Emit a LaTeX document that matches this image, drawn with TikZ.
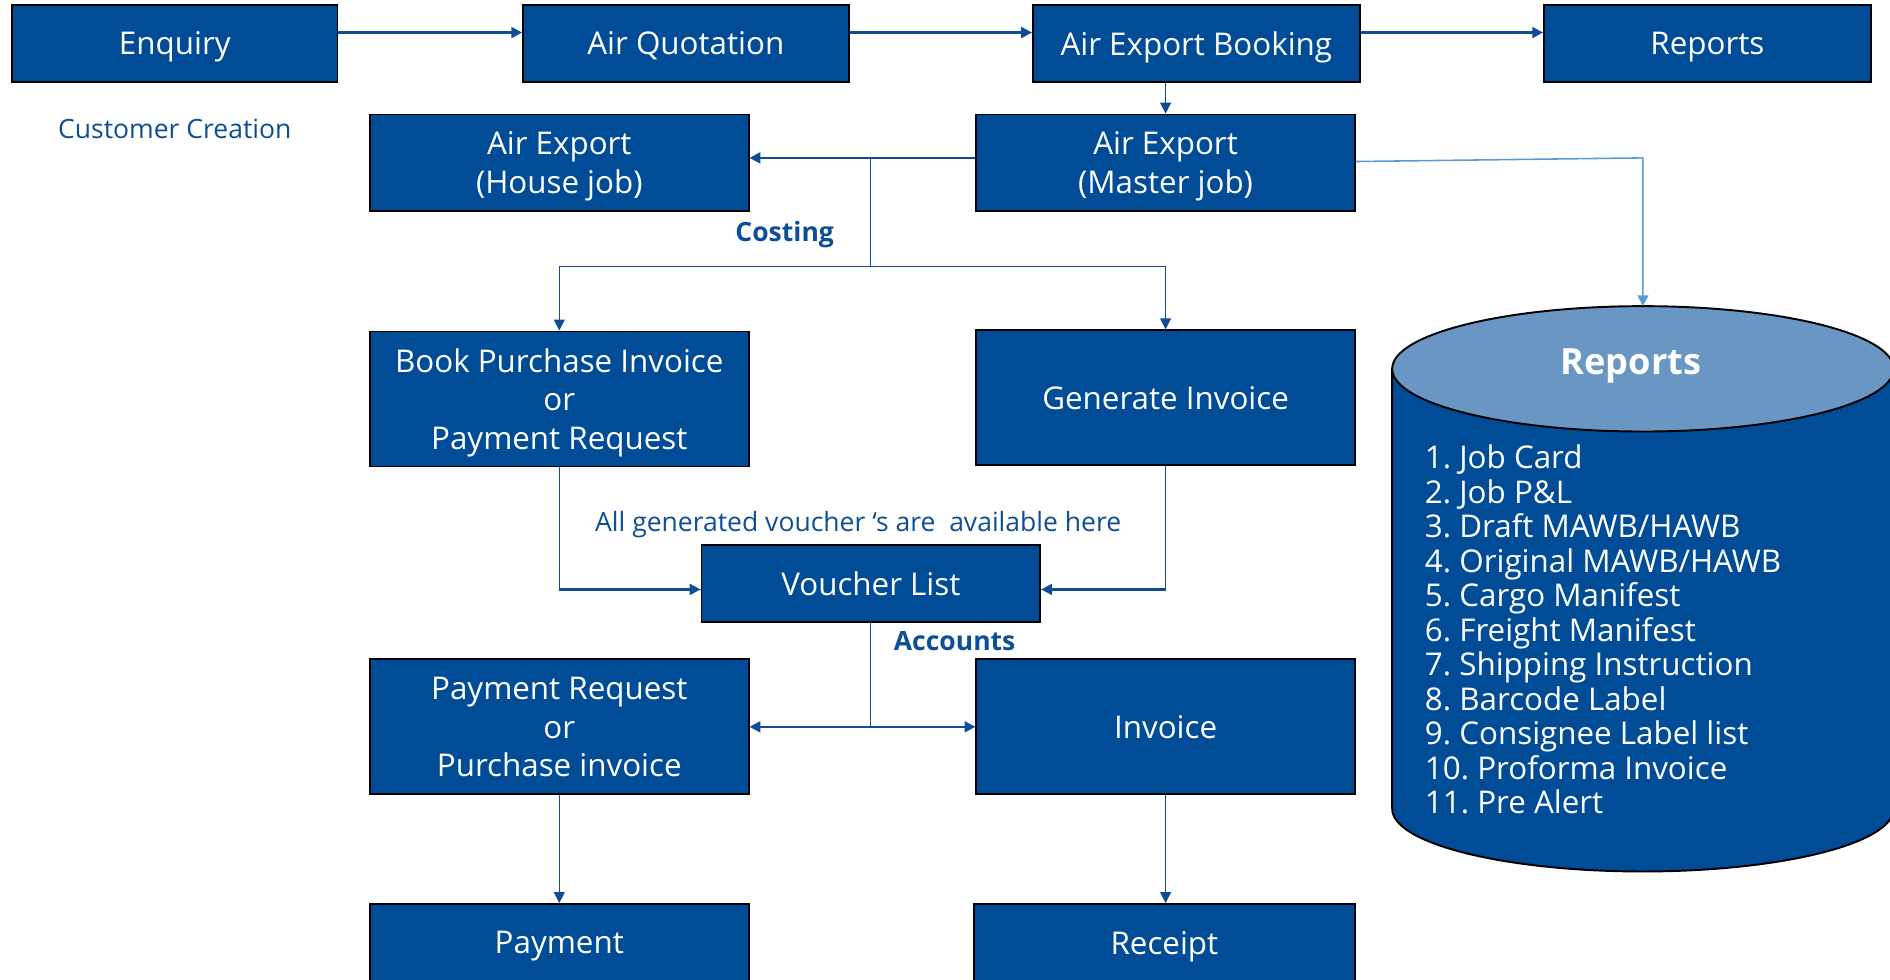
\documentclass[tikz,border=0pt]{standalone}
\usepackage{fontspec}
\setmainfont{Open Sans}
\usetikzlibrary{arrows.meta,calc}
\frenchspacing
\definecolor{boxblue}{RGB}{0,76,151}
\definecolor{lineblue}{RGB}{16,76,150}
\definecolor{textblue}{RGB}{14,78,150}
\definecolor{toplight}{RGB}{106,150,196}
\definecolor{arrlight}{RGB}{91,155,213}
\tikzset{
  box/.style={draw=black, line width=1.6pt, fill=boxblue, text=white, align=center, inner sep=0pt,
    text depth=0pt, font=\fontsize{26}{32}\selectfont},
  arr/.style={draw=lineblue, line width=2pt, -{Triangle[width=9pt,length=9pt]}},
  thinarr/.style={draw=lineblue, line width=1pt, -{Triangle[width=9pt,length=9pt]}},
  thinline/.style={draw=lineblue, line width=1pt},
  lightarr/.style={draw=arrlight, line width=1.3pt, -{Triangle[width=9pt,length=9pt]}},
  lbl/.style={text=textblue, inner sep=0pt, text depth=0pt, font=\fontsize{22}{26}\selectfont},
  blbl/.style={text=textblue, inner sep=0pt, text depth=0pt, font=\bfseries\fontsize{22}{26}\selectfont}
}
\begin{document}
\begin{tikzpicture}[x=1pt,y=-1pt]
\useasboundingbox (0,0) rectangle (1568,813);
% top row
\node[box, minimum width=270pt, minimum height=64pt] (enq) at (145,36) {Enquiry};
\node[box, minimum width=270pt, minimum height=64pt] (quo) at (569,36) {Air Quotation};
\node[box, minimum width=271pt, minimum height=64pt] (bkg) at (992.5,36) {Air Export Booking};
\node[box, minimum width=271pt, minimum height=64pt] (rep) at (1416.5,36) {Reports};
\node[lbl] (cust) at (145,107) {Customer Creation};
% jobs
\node[box, minimum width=314pt, minimum height=80pt] (house) at (464,135) {Air Export\\(House job)};
\node[box, minimum width=314pt, minimum height=80pt] (master) at (967,135) {Air Export\\(Master job)};
\node[blbl] (cost) at (651,192) {Costing};
% invoices
\node[box, minimum width=314pt, minimum height=112pt] (bpi) at (464,331) {Book Purchase Invoice\\or\\Payment Request};
\node[box, minimum width=314pt, minimum height=112pt] (gen) at (967,330) {Generate Invoice};
\node[lbl] (allgen) at (712,433) {All generated voucher ‘s are\ \ available here};
\node[box, minimum width=281pt, minimum height=64pt] (vl) at (722.5,484) {Voucher List};
\node[blbl] (acc) at (792,532) {Accounts};
\node[box, minimum width=314pt, minimum height=112pt] (pr) at (464,603) {Payment Request\\or\\Purchase invoice};
\node[box, minimum width=314pt, minimum height=112pt] (inv) at (967,603) {Invoice};
\node[box, minimum width=314pt, minimum height=64pt] (pay) at (464,782) {Payment};
\node[box, minimum width=316pt, minimum height=64pt] (rec) at (966,782) {Receipt};
% cylinder
\path[draw=black, line width=1.6pt, fill=boxblue]
  (1155,306) -- (1155,671) arc[start angle=180, end angle=360, x radius=208pt, y radius=52pt]
  -- (1571,306) -- cycle;
\path[draw=black, line width=1.6pt, fill=toplight] (1363,306) ellipse[x radius=208pt, y radius=52pt];
\node[text=white, inner sep=0pt, text depth=0pt, font=\bfseries\fontsize{30}{36}\selectfont] (cylt) at (1353,300) {Reports};
\node[text=white, inner sep=0pt, anchor=north west, align=left, font=\fontsize{26}{28.6}\selectfont] (list) at (1182,369)
 {1. Job Card\\2. Job P\&L\\3. Draft MAWB/HAWB\\4. Original MAWB/HAWB\\5. Cargo Manifest\\6. Freight Manifest\\7. Shipping Instruction\\8. Barcode Label\\9. Consignee Label list\\10. Proforma Invoice\\11. Pre Alert};
\coordinate (cyltop) at (1363,254);
\coordinate (rc) at (1363,131);
% connectors
\draw[arr] ([yshift=9pt]enq.east) -- ([yshift=9pt]quo.west);
\draw[arr] ([yshift=9pt]quo.east) -- ([yshift=9pt]bkg.west);
\draw[arr] ([yshift=9pt]bkg.east) -- ([yshift=9pt]rep.west);
\draw[thinarr] (master.north |- bkg.south) -- (master.north);
\draw[arr] ([yshift=4pt]master.west) -- ([yshift=4pt]house.east);
\coordinate (c1) at (722,131);
\coordinate (c2) at (722,221);
\draw[thinline] (c1) -- (c2);
\draw[thinarr] (c2) -| (bpi.north);
\draw[thinarr] (c2) -| (gen.north);
\draw[lightarr] ([yshift=1pt]master.east) -- (rc) -- (cyltop);
\draw[thinline] (bpi.south) |- ([yshift=-5pt]vl.west);
\draw[arr] ($(bpi.south |- vl.west)+(0,5)$) -- ([yshift=-5pt]vl.west);
\draw[thinline] (gen.south) |- ([yshift=-5pt]vl.east);
\draw[arr] ($(gen.south |- vl.east)+(0,5)$) -- ([yshift=-5pt]vl.east);
\coordinate (c3) at (vl.south |- pr.west);
\draw[thinline] (vl.south) -- (c3);
\draw[arr] (c3) -- (pr.east);
\draw[arr] (c3) -- (inv.west);
\draw[thinarr] (pr.south) -- (pay.north);
\draw[thinarr] (inv.south) -- (inv.south |- rec.north);
\end{tikzpicture}
\end{document}
